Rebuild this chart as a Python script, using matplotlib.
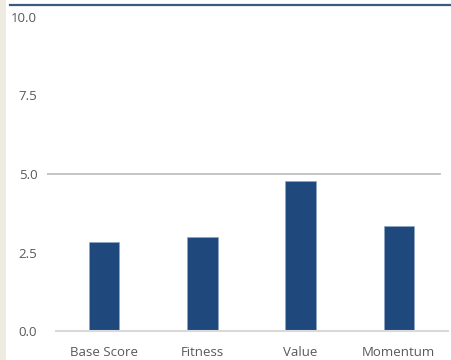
import matplotlib
matplotlib.use("Agg")
import matplotlib.pyplot as plt
from matplotlib.lines import Line2D
from matplotlib.patches import Rectangle

categories = ["Base Score", "Fitness", "Value", "Momentum"]
scores = [2.82, 2.98, 4.79, 3.34]
yticks = [0.0, 2.5, 5.0, 7.5, 10.0]

bar_color = "#1F497D"
text_color = "#595959"
grid_color = "#BFBFBF"

plt.rcParams["font.family"] = ["Open Sans", "DejaVu Sans"]

fig = plt.figure(figsize=(4.51, 3.60), dpi=100)
fig.patch.set_facecolor("white")

# beige strip on the left and the dark rule on top
fig.add_artist(Rectangle((0, 0), 6 / 451, 1, transform=fig.transFigure,
                         facecolor="#EEEBE0", edgecolor="none"))
fig.add_artist(Line2D([10 / 451, 1], [1 - 5 / 360, 1 - 5 / 360], transform=fig.transFigure,
                      color="#3B5A80", linewidth=1.6))

ax = fig.add_axes([47 / 451, 29 / 360, 401 / 451, 314 / 360])
x = list(range(len(categories)))
ax.bar(x, scores, width=0.31, color=bar_color, edgecolor="#8FA6C4", linewidth=0.5, zorder=3)

ax.set_xlim(-0.58, 3.5)
ax.set_ylim(0, 10)

# only the 5.0 gridline and the baseline are drawn
ax.axhline(5.0, xmin=0.0, xmax=0.98, color=grid_color, linewidth=1.3, zorder=1)
ax.axhline(0.0, xmin=0.022, xmax=1.0, color="#D9D9D9", linewidth=1.5, zorder=4, clip_on=False)

for s in ax.spines.values():
    s.set_visible(False)

ax.set_yticks(yticks)
ax.set_yticklabels([f"{v:.1f}" for v in yticks])
ax.set_xticks(x)
ax.set_xticklabels(categories)
ax.tick_params(axis="both", length=0, colors=text_color, labelsize=9.5)
ax.tick_params(axis="y", pad=7)
ax.tick_params(axis="x", pad=11)

fig.savefig("out.png", dpi=100)
